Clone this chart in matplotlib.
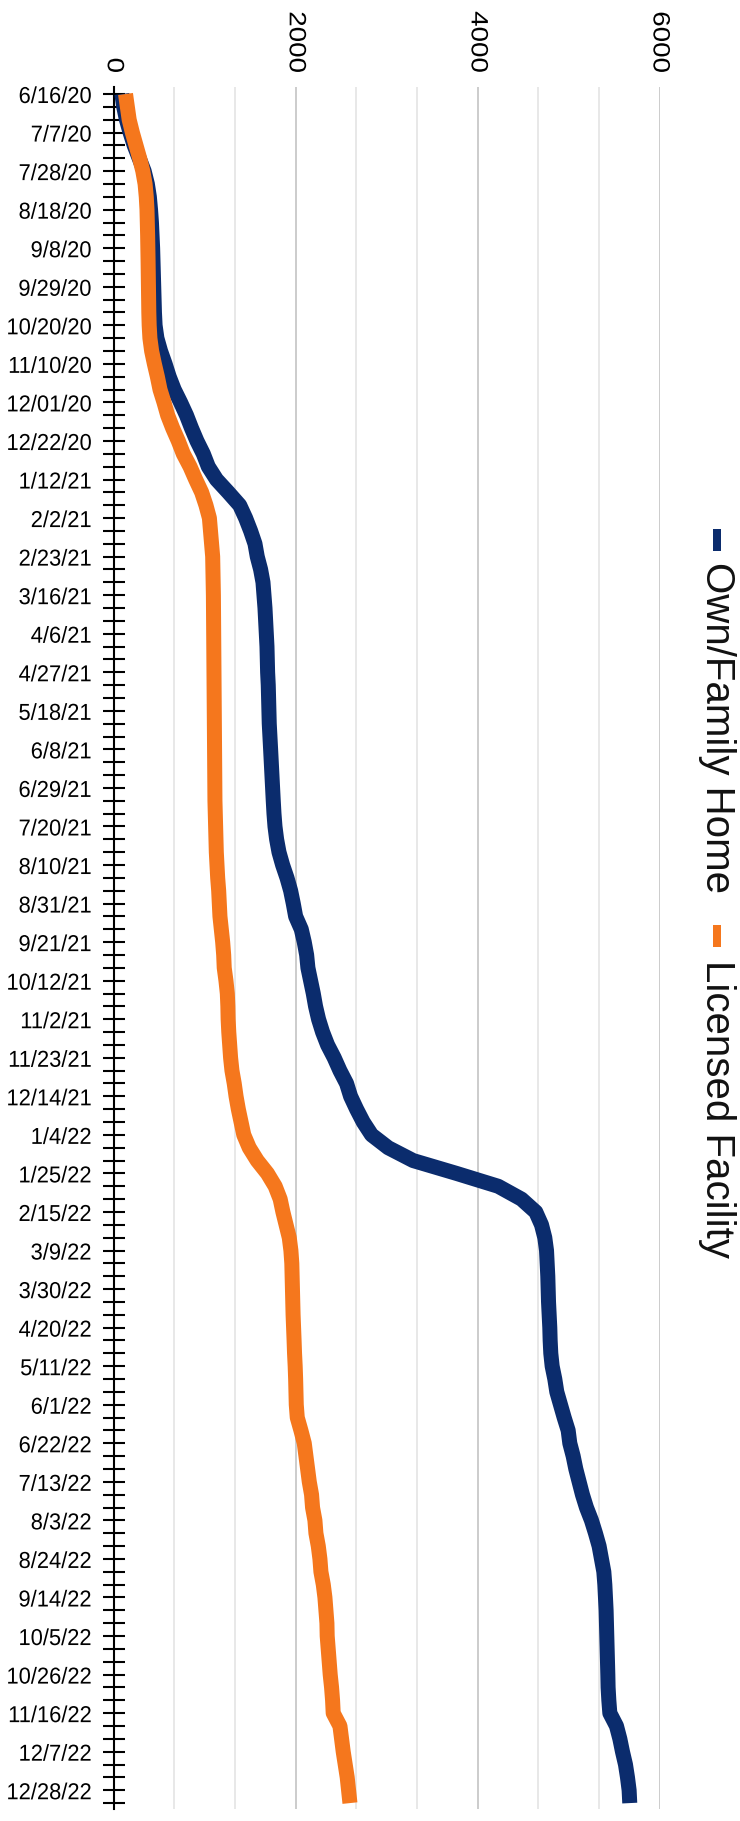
import matplotlib
matplotlib.use('Agg')
import matplotlib.pyplot as plt
from matplotlib import font_manager
from matplotlib.patches import Rectangle
from matplotlib.patheffects import AbstractPathEffect
from matplotlib.transforms import Affine2D

# ---------------- data ----------------
own_family_home = [
    90, 110, 140, 180, 225, 280, 335, 370, 392, 405,
    415, 422, 428, 432, 436, 440, 444, 448, 455, 475,
    515, 565, 610, 665, 735, 800, 855, 915, 985, 1040,
    1130, 1260, 1385, 1450, 1505, 1553, 1578, 1615, 1641, 1652,
    1663, 1670, 1677, 1685, 1688, 1692, 1699, 1703, 1707, 1710,
    1718, 1725, 1732, 1740, 1747, 1754, 1762, 1773, 1791, 1817,
    1857, 1905, 1945, 1974, 2000, 2062, 2095, 2121, 2135, 2164,
    2194, 2219, 2252, 2296, 2351, 2424, 2487, 2560, 2604, 2670,
    2743, 2835, 3018, 3292, 3769, 4227, 4483, 4640, 4703, 4739,
    4758, 4765, 4772, 4776, 4780, 4787, 4794, 4798, 4805, 4820,
    4849, 4871, 4911, 4952, 4996, 5014, 5051, 5080, 5117, 5153,
    5197, 5252, 5296, 5336, 5362, 5388, 5399, 5406, 5413, 5417,
    5421, 5424, 5428, 5432, 5435, 5443, 5454, 5527, 5564, 5593,
    5626, 5648, 5666, 5673,
]
licensed_facility = [
    130, 150, 170, 205, 245, 285, 320, 345, 358, 366,
    370, 373, 376, 378, 380, 382, 384, 386, 390, 398,
    417, 447, 480, 509, 553, 593, 648, 710, 765, 839,
    901, 967, 1014, 1052, 1064, 1077, 1088, 1091, 1095, 1096,
    1097, 1098, 1099, 1101, 1102, 1102, 1103, 1104, 1105, 1106,
    1107, 1107, 1109, 1110, 1111, 1113, 1117, 1121, 1124, 1128,
    1135, 1143, 1154, 1161, 1168, 1183, 1198, 1209, 1215, 1234,
    1249, 1255, 1258, 1265, 1275, 1285, 1300, 1325, 1345, 1370,
    1400, 1430, 1490, 1578, 1690, 1775, 1830, 1860, 1895, 1930,
    1948, 1958, 1962, 1965, 1968, 1972, 1978, 1983, 1988, 1995,
    2000, 2003, 2007, 2018, 2058, 2095, 2113, 2131, 2150, 2175,
    2186, 2212, 2223, 2249, 2267, 2278, 2304, 2322, 2333, 2344,
    2347, 2358, 2369, 2380, 2395, 2406, 2413, 2487, 2505, 2523,
    2545, 2567, 2582, 2597,
]
date_labels = [
    "6/16/20", "7/7/20", "7/28/20", "8/18/20", "9/8/20", "9/29/20",
    "10/20/20", "11/10/20", "12/01/20", "12/22/20", "1/12/21", "2/2/21",
    "2/23/21", "3/16/21", "4/6/21", "4/27/21", "5/18/21", "6/8/21",
    "6/29/21", "7/20/21", "8/10/21", "8/31/21", "9/21/21", "10/12/21",
    "11/2/21", "11/23/21", "12/14/21", "1/4/22", "1/25/22", "2/15/22",
    "3/9/22", "3/30/22", "4/20/22", "5/11/22", "6/1/22", "6/22/22",
    "7/13/22", "8/3/22", "8/24/22", "9/14/22", "10/5/22", "10/26/22",
    "11/16/22", "12/7/22", "12/28/22",
]
label_every = 3
value_ticks = [0, 2000, 4000, 6000]
minor_per_major = 3
series_names = ["Own/Family Home", "Licensed Facility"]

# ---------------- style ----------------
BLUE = "#0b2c6d"
ORANGE = "#f5771d"
W, H, DPI = 740, 1821, 100


def has_font(name):
    try:
        font_manager.findfont(font_manager.FontProperties(family=name),
                              fallback_to_default=False)
        return True
    except Exception:
        return False


base_font = "Liberation Sans" if has_font("Liberation Sans") else "DejaVu Sans"
plt.rcParams["font.family"] = [base_font, "DejaVu Sans"]


class HScale(AbstractPathEffect):
    """Draw the text glyphs condensed horizontally around display x0."""
    def __init__(self, k, x0):
        super().__init__()
        self.k = k
        self.x0 = x0

    def draw_path(self, renderer, gc, tpath, affine, rgbFace=None):
        t = affine + Affine2D().translate(-self.x0, 0).scale(self.k, 1).translate(self.x0, 0)
        renderer.draw_path(gc, tpath, t, rgbFace)


fig = plt.figure(figsize=(W / DPI, H / DPI), dpi=DPI)
fig.patch.set_facecolor("white")

# plot area in pixels: x 113.7..659.5, y 87..1809 (from top)
ax = fig.add_axes([113.7 / W, (H - 1809) / H, (659.5 - 113.7) / W, (1809 - 87) / H])

n = len(own_family_home)
idx = list(range(n))

ax.plot(own_family_home, idx, color=BLUE, lw=10.8, solid_capstyle="butt",
        solid_joinstyle="round", zorder=3)
ax.plot(licensed_facility, idx, color=ORANGE, lw=10.8, solid_capstyle="butt",
        solid_joinstyle="round", zorder=4)

ax.set_xlim(0, 6000)
ax.set_ylim(133.46, -0.545)

# value axis (top)
ax.xaxis.tick_top()
ax.set_xticks(value_ticks)
ax.set_xticklabels([str(v) for v in value_ticks])
step = (value_ticks[1] - value_ticks[0]) / minor_per_major
minor = [value_ticks[0] + step * k for k in range(1, (len(value_ticks) - 1) * minor_per_major)
         if k % minor_per_major]
ax.set_xticks(minor, minor=True)
ax.tick_params(axis="x", which="both", length=0, labelsize=20, pad=10,
               labelrotation=270, colors="black")
ax.grid(axis="x", which="major", color="#c4c4c4", lw=1.2, zorder=0)
ax.grid(axis="x", which="minor", color="#e2e2e2", lw=1.1, zorder=0)

# category axis (left)
ax.set_yticks(idx)
ylabels = []
for i in idx:
    if i % label_every == 0 and i // label_every < len(date_labels):
        ylabels.append(date_labels[i // label_every])
    else:
        ylabels.append("")
ax.set_yticklabels(ylabels, fontsize=16.6)
ax.tick_params(axis="y", direction="inout", length=16.3, width=1.5, pad=8.0,
               color="black")

for s in ("top", "right", "bottom"):
    ax.spines[s].set_visible(False)
ax.spines["left"].set_color("black")
ax.spines["left"].set_linewidth(1.5)
ax.set_axisbelow(True)

# legend (rotated, on the right)
def px(x, y):
    return x / W, 1 - y / H

LEG_X = 717
legend_items = [
    (series_names[0], BLUE, 529, 562),
    (series_names[1], ORANGE, 925, 960),
]
for name, col, my, ty in legend_items:
    x0, y0 = px(LEG_X - 4, my + 22)
    fig.patches.append(Rectangle((x0, y0), 8 / W, 22 / H, transform=fig.transFigure,
                                 facecolor=col, edgecolor="none"))
    tx, tyf = px(LEG_X, ty)
    fig.text(tx, tyf, name, rotation=270, rotation_mode="anchor", ha="left",
             va="center", fontsize=29, color="#111111")

# condense the tick labels horizontally like the reference
fig.canvas.draw()
for lbl in ax.get_yticklabels():
    if lbl.get_text():
        bb = lbl.get_window_extent()
        lbl.set_path_effects([HScale(0.95, bb.x1)])
for lbl in ax.get_xticklabels():
    if lbl.get_text():
        bb = lbl.get_window_extent()
        lbl.set_path_effects([HScale(0.85, 0.5 * (bb.x0 + bb.x1))])

fig.savefig("out.png", dpi=DPI, facecolor="white")
